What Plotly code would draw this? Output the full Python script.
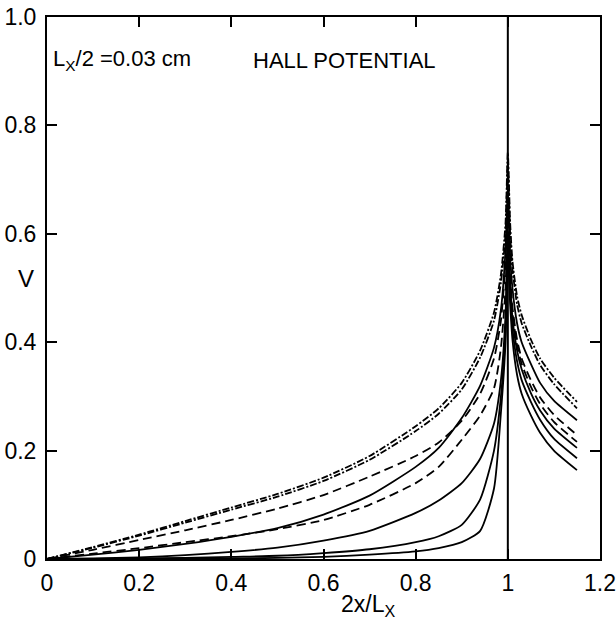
import plotly.graph_objects as go

# ---- data ----
x_left = [0, 0.1, 0.2, 0.3, 0.4, 0.5, 0.6, 0.7, 0.8, 0.85, 0.9, 0.94, 0.97, 0.985, 0.995, 1.0]
x_right = [1.005, 1.01, 1.02, 1.03, 1.05, 1.07, 1.1, 1.15]

dd1_left = [0, 0.022, 0.045, 0.07, 0.095, 0.12, 0.15, 0.19, 0.245, 0.278, 0.325, 0.385, 0.455, 0.525, 0.62, 0.75]
dd1_right = [0.62, 0.55, 0.485, 0.45, 0.405, 0.37, 0.335, 0.29]
dd2_left = [0, 0.021, 0.043, 0.067, 0.091, 0.115, 0.144, 0.183, 0.236, 0.268, 0.313, 0.372, 0.44, 0.51, 0.6, 0.73]
dd2_right = [0.6, 0.535, 0.47, 0.435, 0.393, 0.358, 0.323, 0.278]
s1_left = [0, 0.008, 0.017, 0.028, 0.041, 0.057, 0.082, 0.117, 0.17, 0.205, 0.26, 0.32, 0.39, 0.46, 0.57, 0.68]
s1_right = [0.56, 0.5, 0.435, 0.4, 0.36, 0.325, 0.292, 0.256]
dashu_left = [0, 0.017, 0.035, 0.053, 0.072, 0.093, 0.118, 0.152, 0.19, 0.215, 0.255, 0.305, 0.37, 0.44, 0.55, 0.67]
dashu_right = [0.53, 0.465, 0.405, 0.37, 0.33, 0.298, 0.266, 0.229]
dashl_left = [0, 0.01, 0.02, 0.031, 0.042, 0.055, 0.072, 0.1, 0.14, 0.17, 0.22, 0.265, 0.315, 0.39, 0.5, 0.64]
dashl_right = [0.52, 0.455, 0.395, 0.36, 0.318, 0.286, 0.253, 0.216]
s2_left = [0, 0.001, 0.003, 0.007, 0.013, 0.021, 0.034, 0.052, 0.085, 0.108, 0.14, 0.185, 0.25, 0.33, 0.45, 0.6]
s2_right = [0.51, 0.445, 0.385, 0.35, 0.306, 0.274, 0.241, 0.205]
s3_left = [0, 0, 0.001, 0.002, 0.004, 0.006, 0.011, 0.018, 0.031, 0.042, 0.063, 0.11, 0.2, 0.3, 0.42, 0.58]
s3_right = [0.49, 0.425, 0.365, 0.33, 0.29, 0.257, 0.222, 0.186]
s4_left = [0, 0, 0, 0.001, 0.001, 0.002, 0.004, 0.008, 0.014, 0.02, 0.031, 0.052, 0.13, 0.27, 0.4, 0.56]
s4_right = [0.47, 0.405, 0.34, 0.305, 0.265, 0.233, 0.2, 0.164]

divider_x = 1.0
x_ticks = [0, 0.2, 0.4, 0.6, 0.8, 1.0, 1.2]
x_ticktext = ["0", "0.2", "0.4", "0.6", "0.8", "1", "1.2"]
y_ticks = [0, 0.2, 0.4, 0.6, 0.8, 1.0]
y_ticktext = ["0", "0.2", "0.4", "0.6", "0.8", "1.0"]

DASHDOT = "7px,2px,2px,2px"
DASH = "9px,5px"
series = [
    (dd1_left, dd1_right, DASHDOT),
    (dd2_left, dd2_right, DASHDOT),
    (s1_left, s1_right, "solid"),
    (dashu_left, dashu_right, DASH),
    (dashl_left, dashl_right, DASH),
    (s2_left, s2_right, "solid"),
    (s3_left, s3_right, "solid"),
    (s4_left, s4_right, "solid"),
]

FONT = "Liberation Sans, Arial, sans-serif"
fig = go.Figure()
xs = x_left + x_right
for left, right, dash in series:
    fig.add_trace(go.Scatter(
        x=xs, y=left + right, mode="lines",
        line=dict(color="black", width=1.8, dash=dash, shape="spline", smoothing=0.6),
        showlegend=False, hoverinfo="skip"))

fig.add_trace(go.Scatter(x=[divider_x, divider_x], y=[0, 1], mode="lines",
                         line=dict(color="black", width=2), showlegend=False, hoverinfo="skip"))

fig.update_layout(
    width=616, height=625,
    margin=dict(l=47, r=16, t=17, b=66, autoexpand=False),
    paper_bgcolor="white", plot_bgcolor="white",
    font=dict(family=FONT, size=23, color="black"),
    showlegend=False,
)
fig.update_xaxes(range=[0, 1.2], tickvals=x_ticks, ticktext=x_ticktext,
                 ticks="inside", ticklen=10, tickwidth=2, tickcolor="black",
                 showline=True, linewidth=2, linecolor="black", mirror="ticks",
                 showgrid=False, zeroline=False, ticklabelstandoff=2,
                 automargin=False, tickfont=dict(size=23))
fig.update_yaxes(range=[0, 1.0], tickvals=y_ticks, ticktext=y_ticktext,
                 ticks="inside", ticklen=10, tickwidth=2, tickcolor="black",
                 showline=True, linewidth=2, linecolor="black", mirror="ticks",
                 showgrid=False, zeroline=False, ticklabelstandoff=4,
                 automargin=False, tickfont=dict(size=23))

fig.add_annotation(x=0.008, y=0.92, xref="x", yref="y", xanchor="left", yanchor="middle",
                   text="L<sub>X</sub>/2 =0.03 cm", showarrow=False, font=dict(size=22))
fig.add_annotation(x=0.4416, y=0.92, xref="x", yref="y", xanchor="left", yanchor="middle",
                   text="HALL POTENTIAL", showarrow=False, font=dict(size=22))
fig.add_annotation(x=-0.038, y=0.517, xref="paper", yref="paper", xanchor="center", yanchor="middle",
                   text="V", showarrow=False, font=dict(size=24))
fig.add_annotation(x=0.58, y=-0.085, xref="paper", yref="paper", xanchor="center", yanchor="middle",
                   text="2x/L<sub>X</sub>", showarrow=False, font=dict(size=23))

# remove the browser's default 8px body margin so the figure fills the window exactly
fig.write_html("out.html", config={"displayModeBar": False},
               post_script="document.body.style.margin='0';document.body.style.overflow='hidden';")
